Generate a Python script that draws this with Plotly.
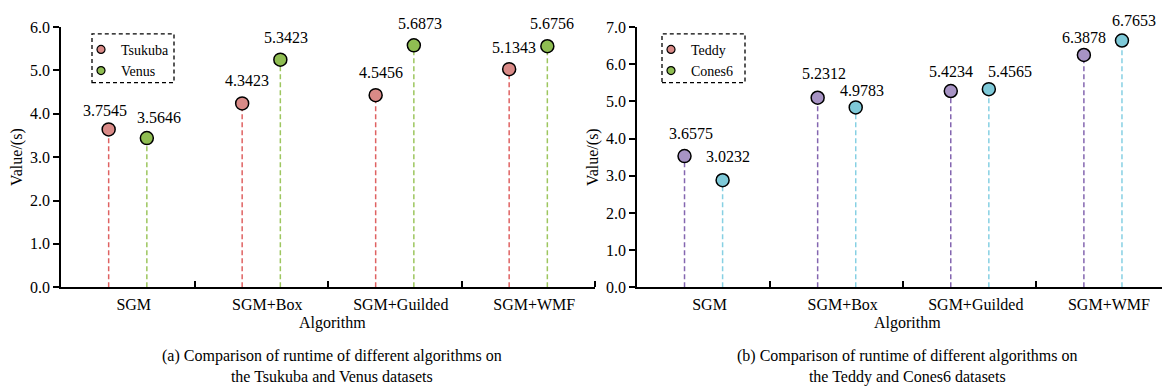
import plotly.graph_objects as go

# ---------------- data ----------------
categories = ["SGM", "SGM+Box", "SGM+Guilded", "SGM+WMF"]

# left panel (marker heights, labels as printed)
tsukuba_vals = [3.64, 4.24, 4.43, 5.03]
venus_vals = [3.44, 5.25, 5.58, 5.56]
tsukuba_labels = ["3.7545", "4.3423", "4.5456", "5.1343"]
venus_labels = ["3.5646", "5.3423", "5.6873", "5.6756"]

# right panel
teddy_vals = [3.53, 5.10, 5.28, 6.25]
cones_vals = [2.88, 4.84, 5.33, 6.64]
teddy_labels = ["3.6575", "5.2312", "5.4234", "6.3878"]
cones_labels = ["3.0232", "4.9783", "5.4565", "6.7653"]

y_left_ticks = [0, 1, 2, 3, 4, 5, 6]
y_right_ticks = [0, 1, 2, 3, 4, 5, 6, 7]

captions = [
    "(a) Comparison of runtime of different algorithms on<br>the Tsukuba and Venus datasets",
    "(b) Comparison of runtime of different algorithms on<br>the Teddy and Cones6 datasets",
]

# label placement nudges in pixels (style only)
tsukuba_ldx, tsukuba_ldy = [-4, 5, 5, 5], [19, 23, 23, 22]
venus_ldx, venus_ldy = [12, 6, 6, 5], [21, 22, 22, 23]
teddy_ldx, teddy_ldy = [6, 6, 0, 0], [23, 24, 20, 17]
cones_ldx, cones_ldy = [5, 6, 21, 12], [24, 17, 18, 20]

# ---------------- layout helpers ----------------
W, H = 1162, 389
FONT = '"Liberation Serif", "Times New Roman", Times, serif'
OFF = 0.143
LABEL_SHIFT = 0.045


def px(x):
    return x / W


def py(y):
    return 1 - y / H


fig = go.Figure()


def add_series(vals, labels, ldx, ldy, xref, yref, dx, stem_color, fill_color):
    xs = [i + dx for i in range(len(vals))]
    sx, sy = [], []
    for x, v in zip(xs, vals):
        sx += [x, x, None]
        sy += [0, v, None]
    fig.add_trace(go.Scatter(
        x=sx, y=sy, mode="lines", xaxis=xref, yaxis=yref, showlegend=False,
        line=dict(color=stem_color, width=1.5, dash="5px,3px"), hoverinfo="skip"))
    fig.add_trace(go.Scatter(
        x=xs, y=vals, mode="markers", xaxis=xref, yaxis=yref, showlegend=False,
        marker=dict(size=13, color=fill_color, line=dict(color="black", width=1.5))))
    for x, v, t, ox, oy in zip(xs, vals, labels, ldx, ldy):
        fig.add_annotation(x=x, y=v, xref=xref, yref=yref, text=t, showarrow=False,
                           yanchor="middle", xanchor="center", xshift=ox, yshift=oy,
                           font=dict(family=FONT, size=16, color="black"))


# left
add_series(tsukuba_vals, tsukuba_labels, tsukuba_ldx, tsukuba_ldy, "x", "y", -OFF, "#df6262", "#d98a87")
add_series(venus_vals, venus_labels, venus_ldx, venus_ldy, "x", "y", OFF, "#9dc65e", "#8fbd52")
# right
add_series(teddy_vals, teddy_labels, teddy_ldx, teddy_ldy, "x2", "y2", -OFF, "#8466b0", "#a793c4")
add_series(cones_vals, cones_labels, cones_ldx, cones_ldy, "x2", "y2", OFF, "#86d0e3", "#7ec9d8")

# legend entries (both legends use pink / green symbols as in the original)
for name, col, lg in [("Tsukuba", "#d98a87", "legend"), ("Venus", "#8fbd52", "legend"),
                      ("Teddy", "#d98a87", "legend2"), ("Cones6", "#8fbd52", "legend2")]:
    fig.add_trace(go.Scatter(x=[None], y=[None], mode="markers", name=name, legend=lg,
                             xaxis="x" if lg == "legend" else "x2",
                             yaxis="y" if lg == "legend" else "y2",
                             marker=dict(size=8, color=col, line=dict(color="black", width=1.2))))

ydom = [py(292), py(20)]


def xaxis_cfg(domain, rng):
    return dict(
        domain=domain, range=rng, showgrid=False, zeroline=False,
        showline=True, linecolor="black", linewidth=1.5,
        tickmode="array", tickvals=[i + LABEL_SHIFT for i in range(len(categories))],
        ticktext=categories,
        ticks="", ticklabelstandoff=2,
        tickfont=dict(family=FONT, size=16, color="black"),
        minor=dict(tickmode="array", tickvals=[0.5, 1.5, 2.5, 3.5], ticks="inside",
                   ticklen=6, tickwidth=1.5, tickcolor="black", showgrid=False),
    )


def yaxis_cfg(anchor, rng, ticks):
    return dict(
        domain=ydom, range=rng, anchor=anchor, showgrid=False, zeroline=False,
        showline=True, linecolor="black", linewidth=1.5,
        tickmode="array", tickvals=ticks, ticktext=[f"{t:.1f}" for t in ticks],
        ticks="outside", ticklen=6, tickwidth=1.5, tickcolor="black",
        tickfont=dict(family=FONT, size=16, color="black"),
        title=dict(text="Value/(s)", standoff=3, font=dict(family=FONT, size=16, color="black")),
    )


fig.update_layout(
    width=W, height=H, margin=dict(l=0, r=0, t=0, b=0),
    paper_bgcolor="white", plot_bgcolor="white",
    font=dict(family=FONT, color="black"),
    xaxis=dict(xaxis_cfg([px(61), px(595)], [-0.5, 3.5]), anchor="y"),
    yaxis=yaxis_cfg("x", [0, 6], y_left_ticks),
    xaxis2=dict(xaxis_cfg([px(637), 1.0], [-0.5, 3.5 - 7.5 / 133.3]), anchor="y2"),
    yaxis2=yaxis_cfg("x2", [0, 7], y_right_ticks),
    legend=dict(x=px(81), y=py(27), xanchor="left", yanchor="top",
                bgcolor="rgba(0,0,0,0)", borderwidth=0, tracegroupgap=0,
                font=dict(family=FONT, size=14, color="black")),
    legend2=dict(x=px(651), y=py(27), xanchor="left", yanchor="top",
                 bgcolor="rgba(0,0,0,0)", borderwidth=0, tracegroupgap=0,
                 font=dict(family=FONT, size=14, color="black")),
    showlegend=True,
)

# dashed legend frames
for x0, x1 in [(92, 174), (662, 745)]:
    fig.add_shape(type="rect", xref="paper", yref="paper",
                  x0=px(x0), x1=px(x1), y0=py(78), y1=py(27),
                  line=dict(color="black", width=1.3, dash="4px,3px"))

# axis titles and captions
for cx, txt in [(px(332), captions[0]), (px(907), captions[1])]:
    fig.add_annotation(x=cx, y=py(329), xref="paper", yref="paper", text="Algorithm",
                       showarrow=False, xanchor="center", yanchor="middle",
                       font=dict(family=FONT, size=16, color="black"))
    fig.add_annotation(x=cx, y=py(352), xref="paper", yref="paper", text=txt,
                       showarrow=False, xanchor="center", yanchor="top",
                       font=dict(family=FONT, size=16, color="black"))

fig.write_html("out.html", config={"displayModeBar": False},
               post_script="document.body.style.margin='0';document.body.style.overflow='hidden';")
